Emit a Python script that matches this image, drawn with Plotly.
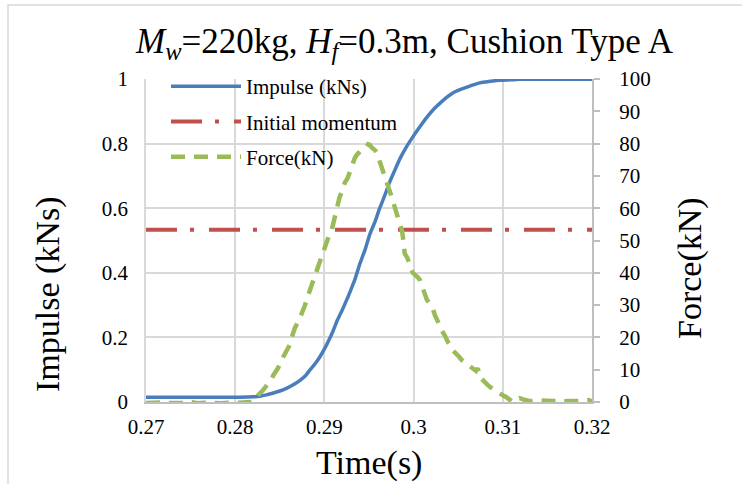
import plotly.graph_objects as go

# ---------------- data ----------------
time_impulse = [0.2700, 0.2780, 0.2805, 0.2820, 0.2828, 0.2835, 0.2842, 0.2850, 0.2858,
                0.2866, 0.2873, 0.2879, 0.2884, 0.2890, 0.2895, 0.2903, 0.2909,
                0.2914, 0.2920, 0.2925, 0.2930, 0.2934, 0.2940, 0.2946, 0.2951,
                0.2957, 0.2962, 0.2968, 0.2973, 0.2979, 0.2985, 0.2992, 0.2999,
                0.3007, 0.3015, 0.3022, 0.3030, 0.3037, 0.3044, 0.3052, 0.3060,
                0.3067, 0.3074, 0.3081, 0.3089, 0.3097, 0.3105, 0.3113, 0.3120,
                0.3200]
impulse = [0.015, 0.015, 0.015, 0.016, 0.018, 0.022, 0.027, 0.034, 0.043,
           0.055, 0.068, 0.082, 0.100, 0.120, 0.140, 0.180, 0.215,
           0.250, 0.285, 0.316, 0.350, 0.378, 0.430, 0.475, 0.520,
           0.560, 0.600, 0.642, 0.680, 0.718, 0.755, 0.790, 0.820,
           0.852, 0.882, 0.905, 0.926, 0.943, 0.957, 0.967, 0.975,
           0.982, 0.988, 0.991, 0.994, 0.996, 0.997, 0.998, 0.999,
           0.999]

time_momentum = [0.27, 0.32]
momentum = [0.533, 0.533]

time_force = [0.2700, 0.2705, 0.2712, 0.2718, 0.2725, 0.2732, 0.2738, 0.2745, 0.2752,
              0.2758, 0.2765, 0.2772, 0.2778, 0.2785, 0.2792, 0.2798, 0.2805, 0.2812,
              0.2818, 0.2822, 0.2826, 0.2831, 0.2836, 0.2840, 0.2843, 0.2848, 0.2852,
              0.2856, 0.2861, 0.2864, 0.2867, 0.2871, 0.2875, 0.2878, 0.2880, 0.2883,
              0.2886, 0.2889, 0.2891, 0.2894, 0.2896, 0.2898, 0.2900, 0.2902, 0.2904,
              0.2906, 0.2908, 0.2910, 0.2912, 0.2914, 0.2915, 0.2917, 0.2919, 0.2921,
              0.2923, 0.2926, 0.2928, 0.2931, 0.2934, 0.2936, 0.2938, 0.2941, 0.2943,
              0.2945, 0.2947, 0.2949, 0.2951, 0.2953, 0.2955, 0.2957, 0.2959, 0.2961,
              0.2962, 0.2964, 0.2965, 0.2967, 0.2969, 0.2971, 0.2973, 0.2975, 0.2977,
              0.2979, 0.2981, 0.2983, 0.2984, 0.2986, 0.2987, 0.2989, 0.2990, 0.2993,
              0.2995, 0.2997, 0.2999, 0.3001, 0.3003, 0.3005, 0.3007, 0.3009, 0.3010,
              0.3013, 0.3015, 0.3017, 0.3019, 0.3021, 0.3022, 0.3024, 0.3026, 0.3028,
              0.3029, 0.3031, 0.3033, 0.3035, 0.3037, 0.3039, 0.3041, 0.3043, 0.3044,
              0.3047, 0.3049, 0.3051, 0.3054, 0.3056, 0.3059, 0.3061, 0.3063, 0.3066,
              0.3068, 0.3070, 0.3072, 0.3073, 0.3074, 0.3076, 0.3078, 0.3081, 0.3083,
              0.3086, 0.3088, 0.3091, 0.3094, 0.3096, 0.3099, 0.3101, 0.3104, 0.3106,
              0.3108, 0.3110, 0.3111, 0.3113, 0.3115, 0.3117, 0.3119, 0.3122, 0.3125,
              0.3129, 0.3133, 0.3137, 0.3142, 0.3147, 0.3152, 0.3157, 0.3162, 0.3167,
              0.3172, 0.3177, 0.3182, 0.3187, 0.3192, 0.3196, 0.3200]
force = [-0.3, -0.2, -0.4, -0.1, -0.3, -0.4, -0.2, -0.3, -0.1,
         -0.4, -0.2, -0.3, -0.1, -0.4, -0.2, -0.3, -0.2, -0.1,
         0.0, 0.5, 2.2, 3.6, 5.3, 6.8, 8.4, 10.5, 13.0,
         15.2, 17.6, 20.5, 23.0, 25.0, 27.5, 29.8, 31.6, 34.0,
         36.8, 39.0, 41.0, 43.5, 45.0, 46.6, 48.0, 49.8, 51.0,
         52.2, 53.0, 55.5, 58.0, 60.8, 62.5, 63.4, 64.7, 66.5,
         68.0, 69.3, 71.0, 73.4, 75.5, 76.4, 77.0, 78.3, 78.5,
         78.9, 79.0, 79.8, 79.6, 78.8, 78.5, 77.9, 77.0, 75.0,
         74.0, 72.8, 72.0, 70.4, 69.0, 67.0, 65.5, 63.8, 62.0,
         60.8, 59.5, 57.5, 56.0, 54.0, 53.0, 49.0, 46.0, 44.6,
         43.0, 41.6, 40.0, 39.5, 38.7, 38.5, 37.8, 36.2, 35.0,
         33.1, 31.6, 30.9, 30.0, 29.0, 28.5, 26.8, 25.5, 24.6,
         23.8, 22.4, 21.5, 20.6, 19.2, 18.3, 17.5, 16.9, 16.0,
         15.3, 14.5, 14.0, 13.0, 12.6, 12.0, 11.3, 10.8, 10.6,
         10.0, 9.6, 10.5, 9.0, 7.7, 7.2, 6.5, 5.8, 5.3,
         4.6, 4.2, 3.7, 3.1, 2.7, 2.2, 1.9, 1.5, 1.0,
         0.6, 0.3, 0.0, 0.4, 0.5, 0.9, 1.2, 0.8, 0.6,
         0.4, 0.3, 0.6, 0.5, 0.2, 0.4, 0.3, 0.5, 0.1,
         0.3, 0.2, 0.4, 0.3, 0.5, 0.6, 0.2]

x_ticks = [0.27, 0.28, 0.29, 0.30, 0.31, 0.32]
x_ticktext = ["0.27", "0.28", "0.29", "0.3", "0.31", "0.32"]
y_ticks = [0, 0.2, 0.4, 0.6, 0.8, 1.0]
y_ticktext = ["0", "0.2", "0.4", "0.6", "0.8", "1"]
y2_ticks = [0, 10, 20, 30, 40, 50, 60, 70, 80, 90, 100]

# ---------------- layout geometry (pixels) ----------------
W, H = 742, 484
L, R, T, B = 146, 592, 79, 402
FONT = "Liberation Serif"


def px_x(px):
    return (px - L) / (R - L)


def px_y(py):
    return (B - py) / (B - T)


fig = go.Figure()
fig.add_trace(go.Scatter(x=time_impulse, y=impulse, mode="lines", name="Impulse (kNs)",
                         line=dict(color="#4A7EBB", width=3.5, shape="spline", smoothing=0.6),
                         legendgroup="a"))
fig.add_trace(go.Scatter(x=time_momentum, y=momentum, mode="lines", name="Initial momentum",
                         line=dict(color="#C0504D", width=4, dash="31px,13px,4px,15px"),
                         legendgroup="b"))
fig.add_trace(go.Scatter(x=time_force, y=force, mode="lines", name="Force(kN)",
                         line=dict(color="#9BBB59", width=4.5, dash="14px,9px"),
                         yaxis="y2", legendgroup="c"))

tick_font = dict(size=21, family=FONT, color="black")

fig.update_layout(
    width=W, height=H,
    margin=dict(l=L, r=W - R, t=T, b=H - B),
    paper_bgcolor="white", plot_bgcolor="white",
    font=dict(family=FONT, size=21, color="black"),
    showlegend=True,
    legend=dict(x=px_x(166), y=px_y(66), xanchor="left", yanchor="top",
                bgcolor="rgba(0,0,0,0)", font=dict(size=21, family=FONT, color="black"),
                traceorder="grouped", tracegroupgap=5, itemwidth=70,
                itemclick=False),
    xaxis=dict(range=[0.27, 0.32], tickvals=x_ticks, ticktext=x_ticktext,
               showgrid=True, gridcolor="#D9D9D9", gridwidth=1.5,
               showline=True, linecolor="#BFBFBF", linewidth=1.5,
               ticks="", ticklabelstandoff=5, zeroline=False,
               tickfont=tick_font),
    yaxis=dict(range=[0, 1], tickvals=y_ticks, ticktext=y_ticktext,
               showgrid=True, gridcolor="#D9D9D9", gridwidth=1.5,
               showline=True, linecolor="#D9D9D9", linewidth=1.5,
               ticks="", ticklabelstandoff=12, zeroline=False,
               tickfont=tick_font),
    yaxis2=dict(range=[0, 100], tickvals=y2_ticks, overlaying="y", side="right",
                showgrid=False, showline=True, linecolor="#BFBFBF", linewidth=2,
                ticks="outside", ticklen=6, tickcolor="#BFBFBF", tickwidth=1.5,
                ticklabelstandoff=15, zeroline=False,
                tickfont=tick_font),
)

annotations = [
    dict(text="<i>M</i><sub><i>w</i></sub>=220kg, <i>H</i><sub><i>f</i></sub>=0.3m, Cushion Type A",
         x=px_x(404), y=px_y(43), xref="paper", yref="paper", showarrow=False,
         xanchor="center", yanchor="middle", font=dict(size=35, family=FONT, color="black")),
    dict(text="Impulse (kNs)", x=px_x(48), y=px_y(295), xref="paper", yref="paper",
         showarrow=False, textangle=-90, xanchor="center", yanchor="middle",
         font=dict(size=34, family=FONT, color="black")),
    dict(text="Force(kN)", x=px_x(690), y=px_y(268), xref="paper", yref="paper",
         showarrow=False, textangle=-90, xanchor="center", yanchor="middle",
         font=dict(size=34, family=FONT, color="black")),
    dict(text="Time(s)", x=px_x(369), y=px_y(463), xref="paper", yref="paper",
         showarrow=False, xanchor="center", yanchor="middle",
         font=dict(size=34, family=FONT, color="black")),
]
fig.update_layout(annotations=annotations)

fig.add_shape(type="rect", xref="paper", yref="paper",
              x0=px_x(8), x1=px_x(760), y0=px_y(500), y1=px_y(5),
              line=dict(color="#D9D9D9", width=1.5), fillcolor="rgba(0,0,0,0)",
              layer="below")

fig.write_html("out.html")
